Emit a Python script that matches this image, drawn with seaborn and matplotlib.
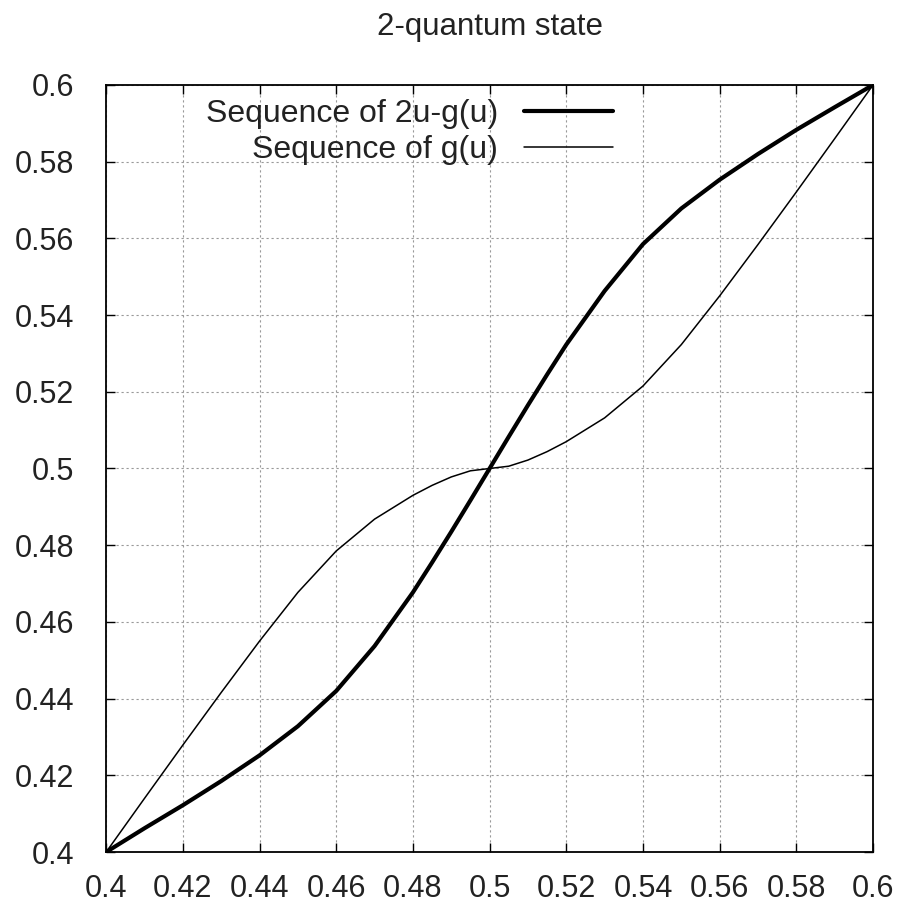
import numpy as np
import pandas as pd
import matplotlib
matplotlib.use("Agg")
import matplotlib.pyplot as plt
import seaborn as sns

# values (finer steps near u = 0.5 where the curves bend)
u_vals = [0.400, 0.410, 0.420, 0.430, 0.440, 0.450, 0.460, 0.470, 0.480, 0.485, 0.490, 0.495, 0.500,
          0.505, 0.510, 0.515, 0.520, 0.530, 0.540, 0.550, 0.560, 0.570, 0.580, 0.590, 0.600]
seq_2u_minus_g = [0.4000, 0.4062, 0.4122, 0.4185, 0.4252, 0.4328, 0.4420, 0.4537, 0.4677, 0.4755, 0.4835, 0.4917, 0.5000,
                  0.5083, 0.5165, 0.5245, 0.5323, 0.5463, 0.5585, 0.5678, 0.5753, 0.5820, 0.5883, 0.5942, 0.6000]
seq_g = [0.4000, 0.4140, 0.4279, 0.4416, 0.4550, 0.4677, 0.4785, 0.4868, 0.4930, 0.4956, 0.4978, 0.4994, 0.5000,
         0.5006, 0.5022, 0.5044, 0.5070, 0.5132, 0.5215, 0.5323, 0.5450, 0.5584, 0.5721, 0.5860, 0.6000]

LABEL_THICK = "Sequence of 2u-g(u)"
LABEL_THIN = "Sequence of g(u)"

df = pd.DataFrame({"u": u_vals * 2,
                   "value": seq_2u_minus_g + seq_g,
                   "series": [LABEL_THICK] * len(u_vals) + [LABEL_THIN] * len(u_vals)})

sns.set_style("ticks")
plt.rcParams['font.family'] = ['Liberation Sans', 'DejaVu Sans']

fig = plt.figure(figsize=(9, 9.09), dpi=100)
ax = fig.add_axes([0.118, 0.0627, 0.852, 0.8438])

sns.lineplot(data=df[df.series == LABEL_THICK], x="u", y="value", color="black",
             linewidth=3.0, label=LABEL_THICK, ax=ax)
sns.lineplot(data=df[df.series == LABEL_THIN], x="u", y="value", color="black",
             linewidth=1.1, label=LABEL_THIN, ax=ax)

ax.set_xlim(0.4, 0.6)
ax.set_ylim(0.4, 0.6)
ticks = [0.4, 0.42, 0.44, 0.46, 0.48, 0.5, 0.52, 0.54, 0.56, 0.58, 0.6]
tick_labels = ["0.4", "0.42", "0.44", "0.46", "0.48", "0.5", "0.52", "0.54", "0.56", "0.58", "0.6"]
ax.set_xticks(ticks)
ax.set_xticklabels(tick_labels)
ax.set_yticks(ticks)
ax.set_yticklabels(tick_labels)
ax.set_xlabel("")
ax.set_ylabel("")
ax.tick_params(direction="in", top=True, right=True, length=6.5, width=1,
               labelsize=22, color="black", labelcolor="#222222")
ax.tick_params(axis="x", pad=16)
ax.tick_params(axis="y", pad=23)
ax.grid(True, linestyle=(0, (2, 2.5)), color="#999999", linewidth=0.8)
for s in ax.spines.values():
    s.set_color("black")
    s.set_linewidth(1.3)

ax.set_title("2-quantum state", fontsize=22.5, pad=36, color="#222222")

leg = ax.legend(loc="upper right", bbox_to_anchor=(0.661, 0.982), frameon=False,
                markerfirst=False, fontsize=23, handlelength=2.8,
                handletextpad=0.8, labelspacing=0.2, borderaxespad=0, borderpad=0)
for t in leg.get_texts():
    t.set_color("#222222")

fig.savefig("out.png", dpi=100)
